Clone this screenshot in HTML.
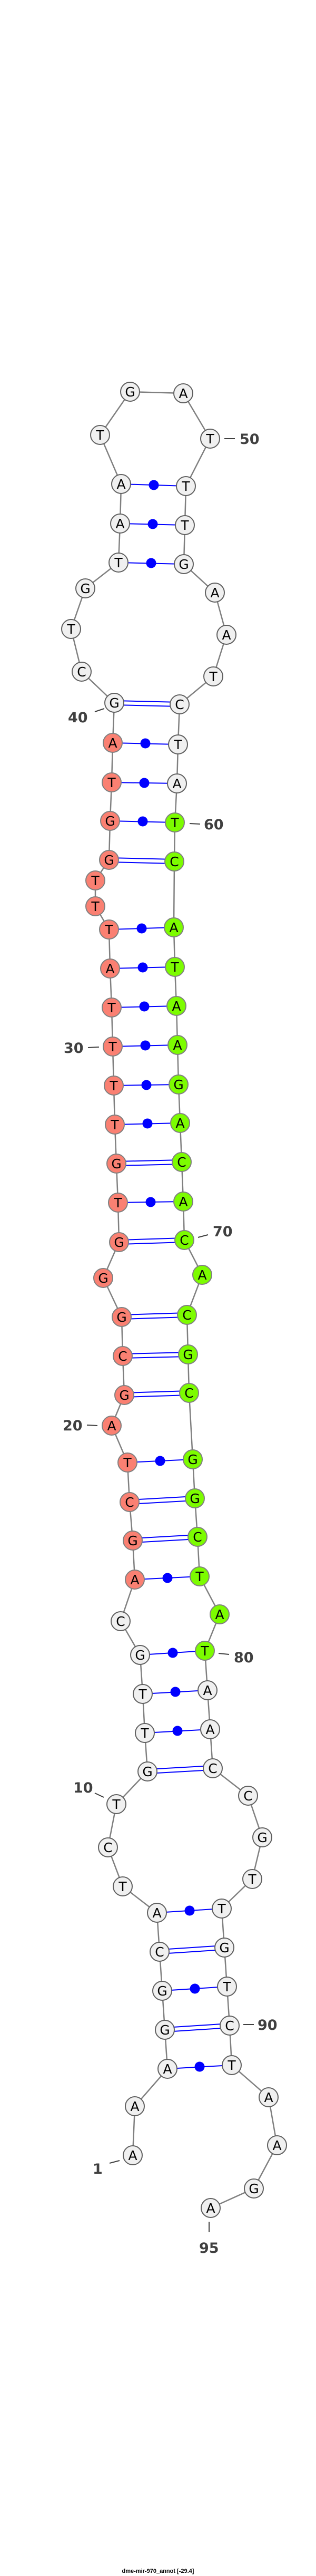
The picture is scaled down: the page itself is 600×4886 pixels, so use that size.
<!DOCTYPE html>
<html><head><meta charset="utf-8"><style>
html,body{margin:0;padding:0;background:#fff;}
svg{display:block;}
.n{stroke-width:2;}
.w{fill:#f0f0f0;stroke:#606060;}
.s{fill:#fa8072;stroke:#808080;}
.g{fill:#7cfc00;stroke:#808080;}
.t{font-family:"DejaVu Sans","Liberation Sans",sans-serif;font-size:25px;text-anchor:middle;fill:#000;}
.l{font-family:"DejaVu Sans","Liberation Sans",sans-serif;font-weight:bold;font-size:27px;fill:#404040;}
.p{stroke:#0000ff;stroke-width:2;}
.k{stroke:#404040;stroke-width:2;}
</style></head><body>
<svg width="600" height="4886" viewBox="0 0 600 4886" xmlns="http://www.w3.org/2000/svg">
<polyline fill="none" stroke="#808080" stroke-width="2.5" points="252,4088 256,3995 318,3924 313,3850 308,3776 303,3702 298,3628 233,3578 205,3504 221,3422 280,3360 275,3287 271,3213 266,3139 229,3075 256,2996 252,2922 246,2849 242,2774 212,2704 236,2646 233,2572 231,2498 196,2424 226,2356 224,2281 221,2207 218,2133 216,2059 214,1985 212,1911 209,1837 207,1763 181,1719 181,1670 207,1631 209,1557 212,1484 214,1409 217,1333 155,1274 135,1193 162,1116 225,1067 228,993 230,918 190,825 247,743 348,746 399,832 353,922 351,996 349,1070 408,1124 430,1204 405,1283 341,1336 338,1412 336,1486 332,1560 331,1634 330,1759 332,1834 335,1908 337,1982 339,2057 342,2130 345,2204 348,2279 350,2352 384,2418 355,2494 357,2569 359,2642 366,2768 370,2842 375,2915 379,2990 417,3062 389,3131 394,3206 399,3280 404,3354 471,3406 498,3485 479,3564 421,3620 426,3694 431,3768 436,3842 440,3917 510,3978 526,4069 482,4151 400,4188"/>
<g class="p">
<!-- dot pairs -->
<line x1="318" y1="3924" x2="440" y2="3917"/><line x1="308" y1="3776" x2="431" y2="3768"/><line x1="298" y1="3628" x2="421" y2="3620"/>
<line x1="275" y1="3287" x2="399" y2="3280"/><line x1="271" y1="3213" x2="394" y2="3206"/><line x1="266" y1="3139" x2="389" y2="3131"/>
<line x1="256" y1="2996" x2="379" y2="2990"/><line x1="242" y1="2774" x2="366" y2="2768"/>
<line x1="224" y1="2281" x2="348" y2="2279"/><line x1="218" y1="2133" x2="342" y2="2130"/><line x1="216" y1="2059" x2="339" y2="2057"/>
<line x1="214" y1="1985" x2="337" y2="1982"/><line x1="212" y1="1911" x2="335" y2="1908"/><line x1="209" y1="1837" x2="332" y2="1834"/>
<line x1="207" y1="1763" x2="330" y2="1759"/><line x1="209" y1="1557" x2="332" y2="1560"/><line x1="212" y1="1484" x2="336" y2="1486"/>
<line x1="214" y1="1409" x2="338" y2="1412"/><line x1="225" y1="1067" x2="349" y2="1070"/><line x1="228" y1="993" x2="351" y2="996"/>
<line x1="230" y1="918" x2="353" y2="922"/>
<!-- double pairs -->
<line x1="313" y1="3846" x2="436" y2="3838"/><line x1="313" y1="3854" x2="436" y2="3846"/>
<line x1="303" y1="3698" x2="426" y2="3690"/><line x1="303" y1="3706" x2="426" y2="3698"/>
<line x1="280" y1="3356" x2="404" y2="3349"/><line x1="280" y1="3364" x2="404" y2="3357"/>
<line x1="252" y1="2918" x2="375" y2="2911"/><line x1="252" y1="2926" x2="375" y2="2919"/>
<line x1="246" y1="2845" x2="370" y2="2838"/><line x1="246" y1="2853" x2="370" y2="2846"/>
<line x1="236" y1="2642" x2="359" y2="2638"/><line x1="236" y1="2650" x2="359" y2="2646"/>
<line x1="233" y1="2568" x2="357" y2="2565"/><line x1="233" y1="2576" x2="357" y2="2573"/>
<line x1="231" y1="2494" x2="355" y2="2490"/><line x1="231" y1="2502" x2="355" y2="2498"/>
<line x1="226" y1="2352" x2="350" y2="2348"/><line x1="226" y1="2360" x2="350" y2="2356"/>
<line x1="221" y1="2203" x2="345" y2="2200"/><line x1="221" y1="2211" x2="345" y2="2208"/>
<line x1="207" y1="1627" x2="331" y2="1630"/><line x1="207" y1="1635" x2="331" y2="1638"/>
<line x1="217" y1="1329" x2="341" y2="1332"/><line x1="217" y1="1337" x2="341" y2="1340"/>
</g>
<g fill="#0000ff">
<circle cx="379" cy="3920" r="9.5"/><circle cx="370" cy="3772" r="9.5"/><circle cx="360" cy="3624" r="9.5"/>
<circle cx="337" cy="3283" r="9.5"/><circle cx="333" cy="3209" r="9.5"/><circle cx="328" cy="3135" r="9.5"/>
<circle cx="318" cy="2993" r="9.5"/><circle cx="304" cy="2771" r="9.5"/>
<circle cx="286" cy="2280" r="9.5"/><circle cx="280" cy="2131" r="9.5"/><circle cx="278" cy="2058" r="9.5"/>
<circle cx="276" cy="1983" r="9.5"/><circle cx="274" cy="1909" r="9.5"/><circle cx="271" cy="1835" r="9.5"/>
<circle cx="269" cy="1761" r="9.5"/><circle cx="271" cy="1558" r="9.5"/><circle cx="274" cy="1485" r="9.5"/>
<circle cx="276" cy="1410" r="9.5"/><circle cx="287" cy="1068" r="9.5"/><circle cx="290" cy="994" r="9.5"/>
<circle cx="292" cy="920" r="9.5"/>
</g>
<g class="n">
<circle class="w" cx="252" cy="4088" r="18"/><circle class="w" cx="256" cy="3995" r="18"/><circle class="w" cx="318" cy="3924" r="18"/><circle class="w" cx="313" cy="3850" r="18"/><circle class="w" cx="308" cy="3776" r="18"/><circle class="w" cx="303" cy="3702" r="18"/><circle class="w" cx="298" cy="3628" r="18"/><circle class="w" cx="233" cy="3578" r="18"/><circle class="w" cx="205" cy="3504" r="18"/><circle class="w" cx="221" cy="3422" r="18"/><circle class="w" cx="280" cy="3360" r="18"/><circle class="w" cx="275" cy="3287" r="18"/><circle class="w" cx="271" cy="3213" r="18"/><circle class="w" cx="266" cy="3139" r="18"/><circle class="w" cx="229" cy="3075" r="18"/>
<circle class="s" cx="256" cy="2996" r="18"/><circle class="s" cx="252" cy="2922" r="18"/><circle class="s" cx="246" cy="2849" r="18"/><circle class="s" cx="242" cy="2774" r="18"/><circle class="s" cx="212" cy="2704" r="18"/><circle class="s" cx="236" cy="2646" r="18"/><circle class="s" cx="233" cy="2572" r="18"/><circle class="s" cx="231" cy="2498" r="18"/><circle class="s" cx="196" cy="2424" r="18"/><circle class="s" cx="226" cy="2356" r="18"/><circle class="s" cx="224" cy="2281" r="18"/><circle class="s" cx="221" cy="2207" r="18"/><circle class="s" cx="218" cy="2133" r="18"/><circle class="s" cx="216" cy="2059" r="18"/><circle class="s" cx="214" cy="1985" r="18"/><circle class="s" cx="212" cy="1911" r="18"/><circle class="s" cx="209" cy="1837" r="18"/><circle class="s" cx="207" cy="1763" r="18"/><circle class="s" cx="181" cy="1719" r="18"/><circle class="s" cx="181" cy="1670" r="18"/><circle class="s" cx="207" cy="1631" r="18"/><circle class="s" cx="209" cy="1557" r="18"/><circle class="s" cx="212" cy="1484" r="18"/><circle class="s" cx="214" cy="1409" r="18"/>
<circle class="w" cx="217" cy="1333" r="18"/><circle class="w" cx="155" cy="1274" r="18"/><circle class="w" cx="135" cy="1193" r="18"/><circle class="w" cx="162" cy="1116" r="18"/><circle class="w" cx="225" cy="1067" r="18"/><circle class="w" cx="228" cy="993" r="18"/><circle class="w" cx="230" cy="918" r="18"/><circle class="w" cx="190" cy="825" r="18"/><circle class="w" cx="247" cy="743" r="18"/><circle class="w" cx="348" cy="746" r="18"/><circle class="w" cx="399" cy="832" r="18"/><circle class="w" cx="353" cy="922" r="18"/><circle class="w" cx="351" cy="996" r="18"/><circle class="w" cx="349" cy="1070" r="18"/><circle class="w" cx="408" cy="1124" r="18"/><circle class="w" cx="430" cy="1204" r="18"/><circle class="w" cx="405" cy="1283" r="18"/><circle class="w" cx="341" cy="1336" r="18"/><circle class="w" cx="338" cy="1412" r="18"/><circle class="w" cx="336" cy="1486" r="18"/>
<circle class="g" cx="332" cy="1560" r="18"/><circle class="g" cx="331" cy="1634" r="18"/><circle class="g" cx="330" cy="1759" r="18"/><circle class="g" cx="332" cy="1834" r="18"/><circle class="g" cx="335" cy="1908" r="18"/><circle class="g" cx="337" cy="1982" r="18"/><circle class="g" cx="339" cy="2057" r="18"/><circle class="g" cx="342" cy="2130" r="18"/><circle class="g" cx="345" cy="2204" r="18"/><circle class="g" cx="348" cy="2279" r="18"/><circle class="g" cx="350" cy="2352" r="18"/><circle class="g" cx="384" cy="2418" r="18"/><circle class="g" cx="355" cy="2494" r="18"/><circle class="g" cx="357" cy="2569" r="18"/><circle class="g" cx="359" cy="2642" r="18"/><circle class="g" cx="366" cy="2768" r="18"/><circle class="g" cx="370" cy="2842" r="18"/><circle class="g" cx="375" cy="2915" r="18"/><circle class="g" cx="379" cy="2990" r="18"/><circle class="g" cx="417" cy="3062" r="18"/><circle class="g" cx="389" cy="3131" r="18"/>
<circle class="w" cx="394" cy="3206" r="18"/><circle class="w" cx="399" cy="3280" r="18"/><circle class="w" cx="404" cy="3354" r="18"/><circle class="w" cx="471" cy="3406" r="18"/><circle class="w" cx="498" cy="3485" r="18"/><circle class="w" cx="479" cy="3564" r="18"/><circle class="w" cx="421" cy="3620" r="18"/><circle class="w" cx="426" cy="3694" r="18"/><circle class="w" cx="431" cy="3768" r="18"/><circle class="w" cx="436" cy="3842" r="18"/><circle class="w" cx="440" cy="3917" r="18"/><circle class="w" cx="510" cy="3978" r="18"/><circle class="w" cx="526" cy="4069" r="18"/><circle class="w" cx="482" cy="4151" r="18"/><circle class="w" cx="400" cy="4188" r="18"/>
</g>
<g class="t">
<text x="252" y="4097">A</text><text x="256" y="4004">A</text><text x="318" y="3933">A</text><text x="313" y="3859">G</text><text x="308" y="3785">G</text><text x="303" y="3711">C</text><text x="298" y="3637">A</text><text x="233" y="3587">T</text><text x="205" y="3513">C</text><text x="221" y="3431">T</text><text x="280" y="3369">G</text><text x="275" y="3296">T</text><text x="271" y="3222">T</text><text x="266" y="3148">G</text><text x="229" y="3084">C</text>
<text x="256" y="3005">A</text><text x="252" y="2931">G</text><text x="246" y="2858">C</text><text x="242" y="2783">T</text><text x="212" y="2713">A</text><text x="236" y="2655">G</text><text x="233" y="2581">C</text><text x="231" y="2507">G</text><text x="196" y="2433">G</text><text x="226" y="2365">G</text><text x="224" y="2290">T</text><text x="221" y="2216">G</text><text x="218" y="2142">T</text><text x="216" y="2068">T</text><text x="214" y="1994">T</text><text x="212" y="1920">T</text><text x="209" y="1846">A</text><text x="207" y="1772">T</text><text x="181" y="1728">T</text><text x="181" y="1679">T</text><text x="207" y="1640">G</text><text x="209" y="1566">G</text><text x="212" y="1493">T</text><text x="214" y="1418">A</text>
<text x="217" y="1342">G</text><text x="155" y="1283">C</text><text x="135" y="1202">T</text><text x="162" y="1125">G</text><text x="225" y="1076">T</text><text x="228" y="1002">A</text><text x="230" y="927">A</text><text x="190" y="834">T</text><text x="247" y="752">G</text><text x="348" y="755">A</text><text x="399" y="841">T</text><text x="353" y="931">T</text><text x="351" y="1005">T</text><text x="349" y="1079">G</text><text x="408" y="1133">A</text><text x="430" y="1213">A</text><text x="405" y="1292">T</text><text x="341" y="1345">C</text><text x="338" y="1421">T</text><text x="336" y="1495">A</text>
<text x="332" y="1569">T</text><text x="331" y="1643">C</text><text x="330" y="1768">A</text><text x="332" y="1843">T</text><text x="335" y="1917">A</text><text x="337" y="1991">A</text><text x="339" y="2066">G</text><text x="342" y="2139">A</text><text x="345" y="2213">C</text><text x="348" y="2288">A</text><text x="350" y="2361">C</text><text x="384" y="2427">A</text><text x="355" y="2503">C</text><text x="357" y="2578">G</text><text x="359" y="2651">C</text><text x="366" y="2777">G</text><text x="370" y="2851">G</text><text x="375" y="2924">C</text><text x="379" y="2999">T</text><text x="417" y="3071">A</text><text x="389" y="3140">T</text>
<text x="394" y="3215">A</text><text x="399" y="3289">A</text><text x="404" y="3363">C</text><text x="471" y="3415">C</text><text x="498" y="3494">G</text><text x="479" y="3573">T</text><text x="421" y="3629">T</text><text x="426" y="3703">G</text><text x="431" y="3777">T</text><text x="436" y="3851">C</text><text x="440" y="3926">T</text><text x="510" y="3987">A</text><text x="526" y="4078">A</text><text x="482" y="4160">G</text><text x="400" y="4197">A</text>
</g>
<g class="k">
<line x1="426" y1="832" x2="446" y2="832"/>
<line x1="180" y1="1350" x2="198" y2="1344"/>
<line x1="360" y1="1562" x2="380" y2="1563"/>
<line x1="167" y1="1987" x2="188" y2="1986"/>
<line x1="376" y1="2347" x2="395" y2="2342"/>
<line x1="165" y1="2703" x2="185" y2="2704"/>
<line x1="415" y1="3136" x2="435" y2="3138"/>
<line x1="180" y1="3401" x2="197" y2="3409"/>
<line x1="462" y1="3840" x2="482" y2="3840"/>
<line x1="208" y1="4103" x2="227" y2="4098"/>
<line x1="397" y1="4214" x2="397" y2="4234"/>
</g>
<g class="l">
<text x="455" y="842">50</text>
<text x="129" y="1370">40</text>
<text x="387" y="1573">60</text>
<text x="121" y="1997">30</text>
<text x="404" y="2345">70</text>
<text x="119" y="2713">20</text>
<text x="444" y="3153">80</text>
<text x="139" y="3400">10</text>
<text x="489" y="3850">90</text>
<text x="176" y="4123">1</text>
<text x="378" y="4273">95</text>
</g>
<text x="300" y="4880" text-anchor="middle" style="font-family:'Liberation Sans',sans-serif;font-weight:bold;font-size:11px;fill:#000;">dme-mir-970_annot [-29.4]</text>
</svg>
</body></html>
